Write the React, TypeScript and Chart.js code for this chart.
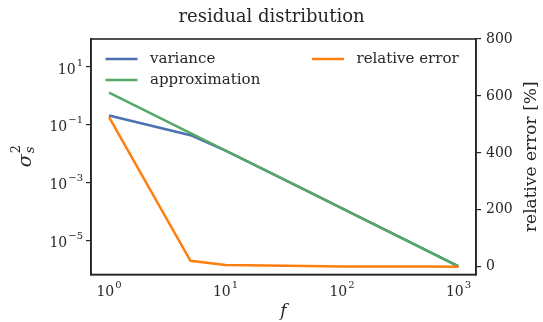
import React, { useEffect, useRef } from "react";
import { Chart, registerables } from "chart.js";

Chart.register(...registerables);

const frequencies = [1, 5, 10, 50, 100, 500, 1000];
const variance = [0.21, 0.044, 0.0128, 0.00052, 0.00013, 0.0000052, 0.0000013];
const approximation = [1.3, 0.052, 0.013, 0.00052, 0.00013, 0.0000052, 0.0000013];
const relativeError = [526, 21, 6, 2.5, 1.5, 1, 0.5];
const xTicks = [1, 10, 100, 1000];
const xTickExponents = ["0", "1", "2", "3"];
const yTicks = [1e-5, 1e-3, 1e-1, 1e1];
const yTickExponents = ["−5", "−3", "−1", "1"];
const rTicks = [0, 200, 400, 600, 800];

const FONT = "'DejaVu Serif', serif";
const INK = "#262626";

export default function App() {
  const ref = useRef<HTMLCanvasElement>(null);
  useEffect(() => {
    const frame = {
      id: "frame",
      afterDraw(chart: any) {
        const { ctx, chartArea: a } = chart;
        ctx.save();
        ctx.strokeStyle = INK;
        ctx.lineWidth = 1.6;
        ctx.strokeRect(a.left, a.top, a.right - a.left, a.bottom - a.top);

        // log tick labels: base "10" with a raised exponent
        const base = `14px ${FONT}`;
        const sup = `10px ${FONT}`;
        ctx.fillStyle = INK;
        ctx.textBaseline = "middle";
        ctx.textAlign = "left";
        const xs = chart.scales.x;
        xTicks.forEach((v, i) => {
          const px = xs.getPixelForValue(v);
          ctx.font = base;
          const w1 = ctx.measureText("10").width;
          ctx.font = sup;
          const w2 = ctx.measureText(xTickExponents[i]).width;
          const start = px - (w1 + w2 + 1) / 2;
          ctx.font = base;
          ctx.fillText("10", start, a.bottom + 18);
          ctx.font = sup;
          ctx.fillText(xTickExponents[i], start + w1 + 1, a.bottom + 11);
        });
        const ys = chart.scales.y;
        yTicks.forEach((v, i) => {
          const py = ys.getPixelForValue(v);
          ctx.font = sup;
          const w2 = ctx.measureText(yTickExponents[i]).width;
          ctx.font = base;
          const w1 = ctx.measureText("10").width;
          const right = a.left - 8;
          ctx.fillText("10", right - w2 - 1 - w1, py + 3);
          ctx.font = sup;
          ctx.fillText(yTickExponents[i], right - w2, py - 4);
        });

        // legend
        ctx.font = `15px ${FONT}`;
        const items = [
          { i: 0, lx: a.left + 14.5, ly: 59 },
          { i: 1, lx: a.left + 14.5, ly: 80 },
          { i: 2, lx: a.left + 221, ly: 59 },
        ];
        items.forEach((it) => {
          const ds = chart.data.datasets[it.i];
          ctx.strokeStyle = ds.borderColor;
          ctx.lineWidth = 2.5;
          ctx.beginPath();
          ctx.moveTo(it.lx, it.ly);
          ctx.lineTo(it.lx + 32, it.ly);
          ctx.stroke();
          ctx.fillStyle = INK;
          ctx.textAlign = "left";
          ctx.fillText(ds.label, it.lx + 44.5, it.ly);
        });

        // left axis title: sigma with stacked sub/superscript
        ctx.save();
        ctx.translate(24, (a.top + a.bottom) / 2);
        ctx.rotate(-Math.PI / 2);
        ctx.textAlign = "left";
        ctx.font = `italic 19px ${FONT}`;
        const ws = ctx.measureText("σ").width;
        const x0 = -(ws + 8) / 2;
        ctx.fillText("σ", x0, 2);
        ctx.font = `13px ${FONT}`;
        ctx.fillText("2", x0 + ws + 1, -7);
        ctx.font = `italic 13px ${FONT}`;
        ctx.fillText("s", x0 + ws + 1, 7);
        ctx.restore();

        // right axis title
        ctx.translate(532, (a.top + a.bottom) / 2);
        ctx.rotate(-Math.PI / 2);
        ctx.textAlign = "center";
        ctx.font = `17px ${FONT}`;
        ctx.fillText("relative error [%]", 0, 0);
        ctx.restore();
      },
    };
    const chart = new Chart(ref.current!, {
      type: "line",
      data: {
        datasets: [
          {
            label: "variance",
            data: frequencies.map((f, i) => ({ x: f, y: variance[i] })),
            borderColor: "#4C72B0",
            yAxisID: "y",
            order: 2,
          },
          {
            label: "approximation",
            data: frequencies.map((f, i) => ({ x: f, y: approximation[i] })),
            borderColor: "#55A868",
            yAxisID: "y",
            order: 1,
          },
          {
            label: "relative error",
            data: frequencies.map((f, i) => ({ x: f, y: relativeError[i] })),
            borderColor: "#FF7F0E",
            yAxisID: "y1",
            order: 0,
          },
        ],
      },
      options: {
        animation: false,
        responsive: false,
        devicePixelRatio: 1,
        elements: {
          point: { radius: 0 },
          line: { borderWidth: 2.5, tension: 0 },
        },
        layout: { padding: 0 },
        plugins: {
          legend: { display: false },
          tooltip: { enabled: false },
          title: {
            display: true,
            text: "residual distribution",
            color: INK,
            font: { family: FONT, size: 18, weight: "normal" },
            padding: { top: 7, bottom: 10.4 },
          },
        },
        scales: {
          x: {
            type: "logarithmic",
            min: Math.pow(10, -0.15),
            max: Math.pow(10, 3.15),
            afterBuildTicks: (s: any) => {
              s.ticks = xTicks.map((v) => ({ value: v }));
            },
            afterFit: (s: any) => {
              s.height = 47.5;
            },
            ticks: { display: false },
            grid: { drawOnChartArea: false, drawTicks: false },
            border: { display: true, color: INK, width: 1.6 },
            title: {
              display: true,
              text: "f",
              color: INK,
              font: { family: FONT, size: 17, style: "italic" },
              padding: { top: 0, bottom: 0 },
            },
          },
          y: {
            type: "logarithmic",
            position: "left",
            min: Math.pow(10, -6.17),
            max: Math.pow(10, 1.966),
            afterBuildTicks: (s: any) => {
              s.ticks = yTicks.map((v) => ({ value: v }));
            },
            afterFit: (s: any) => {
              s.width = 91;
            },
            ticks: { display: false },
            grid: { drawOnChartArea: false, drawTicks: true, tickLength: 5, color: INK, lineWidth: 1.2 },
            border: { display: true, color: INK, width: 1.6 },
          },
          y1: {
            type: "linear",
            position: "right",
            min: -27,
            max: 800,
            afterBuildTicks: (s: any) => {
              s.ticks = rTicks.map((v) => ({ value: v }));
            },
            afterFit: (s: any) => {
              s.width = 67;
            },
            ticks: {
              autoSkip: false,
              color: INK,
              font: { family: FONT, size: 14 },
              padding: 5,
            },
            grid: { drawOnChartArea: false, drawTicks: true, tickLength: 5, color: INK, lineWidth: 1.2 },
            border: { display: true, color: INK, width: 1.6 },
          },
        },
      } as any,
      plugins: [frame],
    });
    return () => chart.destroy();
  }, []);
  return (
    <div style={{ position: "fixed", left: 0, top: 0, width: 543, height: 322, background: "#fff" }}>
      <canvas ref={ref} width={543} height={322} style={{ width: 543, height: 322 }} />
    </div>
  );
}
